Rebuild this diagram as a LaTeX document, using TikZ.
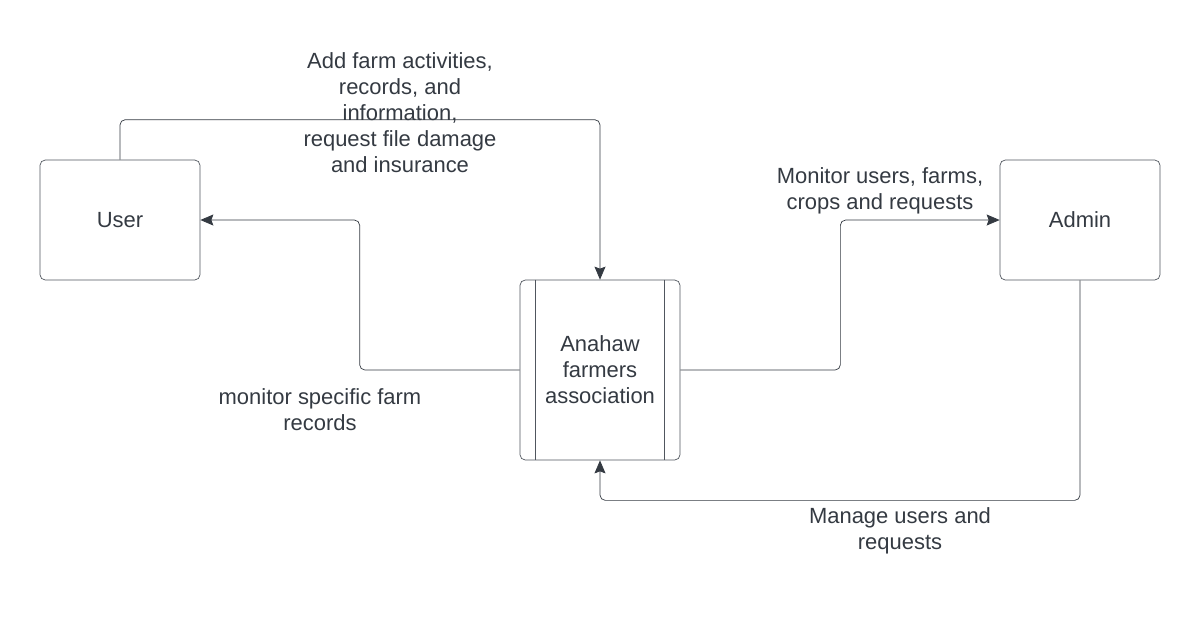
\documentclass[tikz,border=0pt]{standalone}
\usepackage{fontspec}
\setmainfont{Liberation Sans}
\usetikzlibrary{arrows.meta,positioning}
\definecolor{ink}{RGB}{52,58,66}
\definecolor{edgegray}{RGB}{80,86,94}
\tikzset{
    %Define standard arrow tip
    >={Stealth[length=2.6mm,width=2.2mm,inset=0.4mm]},
    %Define style for boxes
    entity/.style={
           rectangle,
           rounded corners=3pt,
           draw=edgegray,
           text=ink,
           minimum width=3.2cm,
           minimum height=2.4cm,
           align=center},
    process/.style={
           entity,
           minimum height=3.6cm},
    % Define style for flow labels
    flowlabel/.style={
           text=ink,
           align=center},
    % Define arrow style
    pil/.style={
           ->,
           draw=ink,
           rounded corners=3pt}
}

\begin{document}
\begin{tikzpicture}[font=\fontsize{12.5}{14.8}\selectfont]
  \useasboundingbox (0,0) rectangle (24,-12.86);
  \node[process] (assoc) at (12,-7.4) {Anahaw\\farmers\\association};
  \draw[edgegray] ([xshift=0.32cm]assoc.north west) -- ([xshift=0.32cm]assoc.south west)
                  ([xshift=-0.32cm]assoc.north east) -- ([xshift=-0.32cm]assoc.south east);
  \node[entity] (user) at (2.4,-4.4) {User};
  \node[entity] (admin) at (21.6,-4.4) {Admin};
  % flows
  \draw[pil] (user.north) -- ++(0,0.8) -| (assoc.north);
  \draw[pil] (assoc.west) -- ++(-3.2,0) |- (user.east);
  \draw[pil] (assoc.east) -- ++(3.2,0) |- (admin.west);
  \draw[pil] (admin.south) -- ++(0,-4.4) -| (assoc.south);
  % labels
  \node[flowlabel] (addlbl) at (8,-2.26) {Add farm activities,\\records, and\\information,\\request file damage\\and insurance};
  \node[flowlabel] (monlbl) at (17.6,-3.82) {Monitor users, farms,\\crops and requests};
  \node[flowlabel] (speclbl) at (6.4,-8.2) {monitor specific farm\\records};
  \node[flowlabel] (manlbl) at (18,-10.62) {Manage users and\\requests};
\end{tikzpicture}
\end{document}
